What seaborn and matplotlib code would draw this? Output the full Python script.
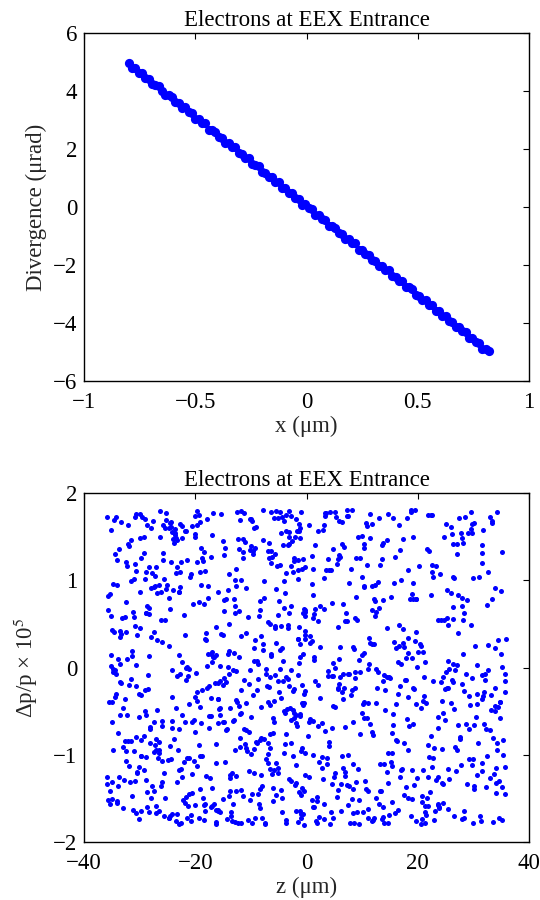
import numpy as np
import pandas as pd
import matplotlib
matplotlib.use("Agg")
import matplotlib.pyplot as plt
import seaborn as sns

# 1 Data

# top panel: transverse phase space, x in um, divergence in urad
x_um = [-0.800, -0.785, -0.770, -0.755, -0.740, -0.725, -0.710, -0.695, -0.680, -0.665,
        -0.650, -0.635, -0.620, -0.605, -0.590, -0.575, -0.560, -0.545, -0.530, -0.515,
        -0.500, -0.485, -0.470, -0.455, -0.440, -0.425, -0.410, -0.395, -0.380, -0.365,
        -0.350, -0.335, -0.320, -0.305, -0.290, -0.275, -0.260, -0.245, -0.230, -0.215,
        -0.200, -0.185, -0.170, -0.155, -0.140, -0.125, -0.110, -0.095, -0.080, -0.065,
        -0.050, -0.035, -0.020, -0.005, 0.010, 0.025, 0.040, 0.055, 0.070, 0.085,
        0.100, 0.115, 0.130, 0.145, 0.160, 0.175, 0.190, 0.205, 0.220, 0.235,
        0.250, 0.265, 0.280, 0.295, 0.310, 0.325, 0.340, 0.355, 0.370, 0.385,
        0.400, 0.415, 0.430, 0.445, 0.460, 0.475, 0.490, 0.505, 0.520, 0.535,
        0.550, 0.565, 0.580, 0.595, 0.610, 0.625, 0.640, 0.655, 0.670, 0.685,
        0.700, 0.715, 0.730, 0.745, 0.760, 0.775, 0.790, 0.805, 0.820]
divergence = [4.97, 4.81, 4.78, 4.62, 4.63, 4.46, 4.43, 4.24, 4.22, 4.18,
              3.99, 3.86, 3.87, 3.80, 3.61, 3.58, 3.41, 3.44, 3.27, 3.23,
              3.05, 3.04, 2.89, 2.89, 2.67, 2.65, 2.60, 2.42, 2.38, 2.20,
              2.22, 2.07, 2.06, 1.85, 1.84, 1.69, 1.68, 1.47, 1.46, 1.41,
              1.22, 1.18, 1.02, 1.02, 0.87, 0.87, 0.65, 0.64, 0.49, 0.48,
              0.30, 0.27, 0.08, 0.10, -0.05, -0.06, -0.27, -0.28, -0.41, -0.44,
              -0.64, -0.66, -0.71, -0.90, -0.94, -1.09, -1.10, -1.25, -1.25, -1.47,
              -1.48, -1.63, -1.64, -1.82, -1.85, -2.04, -2.02, -2.17, -2.18, -2.38,
              -2.40, -2.55, -2.56, -2.76, -2.77, -2.83, -3.02, -3.06, -3.21, -3.22,
              -3.37, -3.37, -3.59, -3.59, -3.75, -3.76, -3.94, -3.97, -4.15, -4.14,
              -4.29, -4.30, -4.50, -4.51, -4.65, -4.68, -4.88, -4.89, -4.97]

# bottom panel: longitudinal phase space
# z in tenths of a micron, dp/p in hundredths of 1e-5
z_tenths = [
    -312,147,-58,263,-201,31,-143,338,92,-267,205,-96,
    84,-334,219,-17,-178,301,-251,156,-89,42,277,-128,
    -226,11,352,-73,189,-305,118,-159,254,-44,-281,67,
    293,-119,-7,-347,238,-192,76,-63,171,-262,329,134,
    -169,207,-290,103,-31,345,-215,51,-104,284,-323,163,
    22,-248,315,-136,129,-81,-359,246,-12,192,-207,88,
    -338,169,-163,61,-276,224,-52,306,-98,9,140,-233,
    117,-68,-219,348,-297,35,-151,271,197,-24,-110,-330,
    -54,260,-314,182,-185,97,-9,-243,320,-127,56,233,
    249,-286,37,-193,-75,151,-346,288,-37,107,-158,213,
    -122,-27,279,-266,73,-325,198,-176,343,25,-88,129,
    178,-351,110,-2,-230,322,-142,63,-59,243,-292,16,
    -279,82,-106,211,357,-48,-189,-319,138,-16,267,46,
    5,-209,236,-299,157,-133,-66,292,-245,103,-355,187,
    -92,312,-171,49,-38,-258,270,124,-307,-117,225,13,
    230,-45,-342,176,-223,81,-8,335,-149,58,-269,-101,
    -154,27,194,-83,307,-312,-21,118,-238,251,-186,84,
    351,-242,-131,15,-290,144,-64,207,-3,-197,66,-339,
    -13,103,-274,317,-167,-99,168,-349,39,231,-52,280,
    -241,195,70,-304,-39,264,-114,-182,297,5,139,-78,
    138,-292,-97,218,-12,340,-168,52,-229,-61,286,-331,
    -205,61,-321,156,-134,11,262,-57,325,-279,104,-179,
    325,-160,-24,-235,87,-350,174,-110,20,249,-296,-66,
    -71,-308,140,-184,301,-121,33,-265,213,-6,121,270,
    41,236,-259,-89,-200,180,-340,91,-28,315,-146,-275,
    -297,-6,94,-150,259,-49,354,-218,-117,165,42,-228,
    166,-124,-285,297,-46,69,-196,23,-344,131,-81,241,
    -19,-216,333,31,-259,-172,113,-95,270,-35,-311,183,
    -333,283,-65,-140,54,210,-13,-288,145,-240,75,-115,
    100,-40,-193,244,-320,-79,309,-156,7,-212,189,356,
    -262,152,19,-326,-105,95,-245,332,-174,58,-18,218,
    213,-337,-163,125,-9,-274,66,203,-52,-120,290,-198,
    -114,344,-230,-37,182,-298,-159,14,-315,236,106,-70,
    66,-99,176,-358,280,21,-206,-143,118,-31,-249,303,
    -186,9,-306,257,-58,153,-125,349,-270,80,-3,-231,
    281,-183,-46,-247,111,-347,38,-83,226,-162,167,-8,
    -41,127,-237,-112,-313,299,-62,178,-4,-283,246,72,
    187,-270,341,-14,-155,45,-203,261,-126,10,-335,115,
    -349,-53,102,-197,220,-27,-290,86,340,-139,-225,152,
    15,287,-141,68,-260,-91,196,-324,-34,316,133,-180,
    -224,71,-11,-300,254,173,-77,-165,28,-253,354,-108,
    306,-129,-341,41,-49,-212,-137,115,-241,200,-18,266,
    -84,-236,227,133,-322,-2,269,-185,79,-100,-284,327,
    123,339,-274,-171,-64,256,-316,12,-211,154,-43,97,
    -144,-22,48,-256,182,-118,-31,-306,295,-221,216,59,
    259,-328,-154,119,-293,34,-70,-245,160,-4,320,-182,
    -4,186,-216,352,-85,-348,148,-127,-265,77,-36,204,
    -301,100,-189,-61,222,298,-268,-3,131,-148,-94,44,
    145,-262,276,-41,-233,64,-357,189,-115,331,-27,-151,
    -58,53,-118,-282,315,-194,-22,240,-33,90,-309,169,
    225,-301,-84,176,-208,-26,343,-132,108,-256,31,-343,
    -163,285,-3,-319,47,-77,-235,159,-113,272,-179,99,
    83,-140,-253,316,-16,-192,125,-329,237,2,-67,-288,
    -270,24,-159,-42,205,-95,-302,58,294,-228,357,137,
    316,-227,-62,86,-357,142,-200,-8,179,-137,-272,255,
    -29,170,-323,-107,236,-12,63,-180,-277,-55,323,108,
    -192,-353,117,273,-67,-242,35,304,-146,195,-44,-310,
    60,252,-36,-214,-138,348,-325,-92,6,245,-263,154,
    -317,-78,-6,149,-264,93,213,-163,-109,-22,276,-227,
    197,-188,-240,54,-17,-300,-87,337,-52,124,-350,39,
    -102,115,319,-273,-197,17,-344,253,147,-159,-32,-234,
    272,-12,-112,-336,183,-63,107,-216,-288,31,-177,339,
    -243,-160,57,219,-44,-316,-118,154,318,-6,83,-290,
    34,338,-286,-129,111,-234,-54,293,-79,-170,191,-338,
    -176,-69,12,-248,280,88,-18,-351,232,-95,-273,167,
    346,-297,-221,63,-103,-25,164,-139,12,-329,224,-73,
    -48,209,-132,-314,-5,-254,333,73,-196,117,-42,265,
    109,-217,-354,191,-148,267,-87,-28,46,-243,307,-183,
    -283,40,-177,-8,265,147,-230,110,-321,-70,-122,352,
    168,-324,96,-200,-60,-279,7,228,-150,311,-10,-101,
    -11,-93,-258,315,164,-170,-349,72,19,-56,245,-230,
    -307,199,-2,-140,-254,44,-117,283,-193,135,-344,74,
    242,-170,-306,28,111,-38,357,-225,-81,-282,-23,196,
    -135,-297,160,-73,-341,300,-218,18,-159,210,89,-3,
    77,-8,-232,251,-120,-309,125,-44,-265,333,-185,46,
    -213,131,342,-357,-31,-150,62,-289,230,-100,-34,282,
    302,-260,-45,-177,194,-80,-321,177,-16,-206,89,-131,
    -95,-222,25,339,-284,-63,208,-149,52,-10,-266,121,
    -327,183,-117,-16,84,-203,-47,330,-253,137,-162,264,
    121,47,-287,-232,-90,263,-121,-336,159,-3,298,-54,
    -24,-343,180,-89,-168,51,-300,-37,278,243,-212,100,
    206,-134,-189,135,-324,-40,88,-244,-108,349,13,-289,
    -256,296,-15,-271,32,-191,156,-66,-336,-127,217,56,
    47,-109,254,-352,-224,119,-80,-12,300,-162,-247,191,
    -156,-31,-245,70,-126,326,-288,187,-57,14,-358,237,
    330,-285,103,-191,248,-6,-223,-96,132,-302,-37,80,
    -76,158,-340,-19,-208,-149,56,-271,255,-82,173,-125,
    264,-213,-65,348,-310,89,-16,-180,-255,29,-131,211,
    -4,-275,221,-127,-33,-242,301,137,-98,-347,66,-188,
    -232,94,-13,-333,190,-70,-155,21,346,-204,-108,284,
    142,-353,-104,238,-14,-167,69,-239,-40,313,-278,112,
    -286,215,-200,-57,-316,125,-2,-129,252,75,-86,-224,
    82,-51,319,-215,-145,5,-283,263,-169,-327,168,-20,
    -200,327,-28,-293,62,-101,196,-31,-236,356,-172,104,
    359,-9,-346,160,-268,-205,37,-124,102,-55,-298,247,
    -137,-258,75,-75,228,-337,-171,288,-19,144,-214,21,
    224,-119,-247,12,-188,281,-60,-309,185,-145,-27,-260,
    -48,275,-156,-305,104,-23,-128,56,-241,215,-351,146,
    -307,48,136,-229,-98,-280,336,-15,225,-196,-66,9,
    191,-175,-69,295,-37,-218,-335,114,-84,29,280,-141,
]
dp_hundredths = [
    64,-132,171,-17,-158,103,-71,22,149,-104,-46,130,
    -167,38,-89,157,-24,-139,95,-53,7,178,-112,71,
    121,-61,-175,-2,84,-121,165,-36,49,-150,-87,138,
    -33,169,16,-95,-161,110,-7,134,-116,54,-72,-142,
    152,-154,-50,93,-128,31,-173,178,-19,62,116,-84,
    -108,80,140,-170,-5,-45,173,-133,27,-65,107,57,
    10,-118,-163,127,168,-79,60,-30,-145,96,-9,146,
    -176,125,37,-58,-102,177,-151,3,79,-27,144,-91,
    90,-41,-147,17,132,-76,-168,161,-14,-124,46,116,
    -60,163,-104,75,-179,-12,41,-134,108,166,-48,6,
    136,-87,-19,-165,53,121,-127,-56,178,23,-145,98,
    -14,14,-173,115,-70,-137,89,167,-38,-93,150,67,
    160,-151,58,-33,-114,20,-64,139,-171,112,-3,-133,
    -126,104,-69,176,29,-156,-11,-105,67,137,-40,-170,
    32,-170,127,-125,-52,163,-94,76,-21,-140,175,9,
    -92,47,-8,-146,148,-26,113,-177,-63,10,85,170,
    176,-103,-135,66,-42,-163,150,27,-82,-5,122,-111,
    -137,155,-60,-16,101,-120,15,-174,59,179,-36,-75,
    5,-39,92,158,-156,-99,-21,43,124,-164,-121,70,
    -69,181,-120,37,-88,69,-147,111,-12,163,-178,20,
    143,-78,-31,-159,12,-115,177,-45,87,-138,-7,57,
    -144,23,163,-66,-176,83,-14,130,-102,35,-58,170,
    72,-164,-49,108,-5,-131,44,-88,156,-25,172,-116,
    -21,119,-111,-175,166,12,-73,94,-159,-43,27,141,
    112,-126,29,-86,-34,171,-155,54,-3,-119,137,-63,
    -164,62,-152,145,85,-28,-100,-62,179,6,-179,92,
    25,147,-9,-112,-140,53,121,-171,-34,171,-81,-17,
    -112,-14,79,163,-61,-160,4,-121,130,-47,102,-150,
    167,-172,-76,19,119,-38,-143,62,-11,89,-100,147,
    -52,99,175,-132,-20,146,-86,-166,36,-104,11,-28,
    86,-108,-153,58,-175,9,166,-49,-127,129,-64,175,
    -178,136,46,-41,-96,-142,73,116,-16,-81,154,-6,
    126,-45,-117,175,34,-83,-163,12,99,-57,-130,52,
    -8,170,-86,-133,148,-20,-63,-174,66,142,-106,25,
    -149,30,111,-2,-62,-113,178,88,-167,-32,42,-94,
    55,-157,-35,160,-141,96,-10,-83,117,-177,163,-41,
    -98,-24,152,-71,13,-178,127,-137,-41,68,-11,180,
    178,-95,-132,46,-15,74,-107,153,-4,-152,35,-65,
    -39,116,-166,-113,134,-60,-26,21,-144,107,-178,81,
    140,-65,16,-24,-131,161,-176,-96,49,-9,118,-124,
    -125,62,-56,148,-162,28,99,-18,-115,169,-83,40,
    3,-177,123,-90,76,-145,-46,176,-61,18,-132,103,
    -161,154,-16,-142,-55,37,-119,73,-178,139,61,-3,
    94,-23,-97,16,178,-128,146,-160,-42,-75,8,125,
    -72,122,-173,102,-34,-52,62,3,159,-108,-150,-19,
    161,-129,38,-175,-117,174,-39,-90,22,67,-7,-164,
    -30,79,-148,132,59,-2,-169,113,-85,-136,156,27,
    -174,14,95,-58,-143,154,31,-27,-156,77,-93,112,
    45,-136,-82,168,-10,-101,82,-151,132,-31,174,-63,
    -117,172,-26,-68,120,-173,-52,107,-13,-166,48,4,
    109,-57,-139,23,-169,145,-87,-3,162,-121,67,-30,
    -88,173,33,-113,-44,80,-176,127,-14,-66,2,151,
    24,-147,177,-36,101,-102,-2,-161,55,-79,143,-129,
    -159,71,-64,140,-179,22,-114,168,-43,110,-8,77,
    131,-8,-122,-178,66,-49,153,-92,11,-141,93,-24,
    -46,100,10,-96,-157,160,-28,40,-136,179,-71,118,
    167,-141,-74,83,-22,-168,112,-57,-108,30,-166,58,
    -11,57,-178,123,-127,-39,75,137,-59,-155,179,-98,
    -131,180,-41,-11,150,-116,-166,14,91,-25,-80,164,
    78,-102,147,-148,-67,45,-13,-122,171,59,-151,-4,
    -152,28,-65,105,-38,-176,130,89,-98,-18,155,-46,
    39,-165,177,-55,-95,120,-139,-1,63,-174,16,91,
    -105,87,-25,-125,172,-84,36,-154,-33,124,-63,170,
    177,-50,-143,63,-2,148,-110,-71,27,-159,97,-136,
    -21,134,-100,-172,80,-12,-55,158,-129,8,-89,49,
    -173,-31,60,142,-119,110,-163,-7,113,-46,175,-105,
    118,-118,-61,19,-180,54,166,-135,-28,93,-15,-170,
    -58,156,-157,-23,129,-91,4,71,-69,167,-123,33,
    13,-85,93,-138,-47,176,-179,-41,142,-109,65,1,
    -126,41,-5,174,-75,-149,28,-104,-20,104,-172,135,
    148,-172,123,-109,-30,6,-62,174,-148,47,-52,86,
    -80,1,-123,50,160,-166,100,-27,-89,140,-3,-158,
    55,-138,176,-64,-162,85,-15,-116,36,-71,126,-42,
    -166,125,-42,-7,95,-105,157,-178,-36,18,-131,66,
    97,-20,-168,165,-53,-130,64,22,-98,168,-158,-10,
    -10,68,-94,-152,179,37,-133,109,-175,-57,45,143,
    -136,-67,154,80,-25,-173,-84,-14,123,-122,81,17,
    160,-152,-35,-44,115,13,-147,65,-1,178,-95,-173,
    -36,112,-178,33,-139,-60,178,-127,90,-16,-110,56,
    79,-10,70,-131,-85,141,-44,4,-167,-98,165,-146,
    -102,173,-59,-26,12,-121,87,-175,154,-38,-2,104,
    25,-121,137,-174,-107,68,-24,121,-72,15,-160,-55,
    -170,49,-9,115,-156,-45,171,-92,42,-142,136,-24,
    136,-92,-116,2,162,-77,-136,-53,103,-179,25,79,
    -55,150,-170,-68,-37,110,-103,180,-9,61,-126,-158,
    173,-25,17,-139,54,-168,-54,133,-111,-30,-76,113,
    -82,97,-153,170,-176,-12,124,-82,7,-123,147,-40,
    4,-159,50,-40,-96,126,-177,32,-149,158,78,-11,
    -141,41,-103,93,140,-34,-66,-160,168,-5,-115,126,
    115,-179,156,-18,-117,-86,2,53,-130,73,-41,-164,
    -26,84,-74,-160,165,12,-124,143,-50,-176,108,34,
    -160,-41,149,45,-13,-149,64,-94,-23,174,-157,6,
    181,-115,-28,-104,78,-63,-166,104,18,-84,135,-135,
    -74,26,-130,131,-164,-3,41,-21,159,-145,-56,92,
    33,-146,169,-83,-49,162,-111,-178,-42,28,-101,150,
    -123,131,-8,-178,104,-126,-35,77,-165,146,1,-67,
    83,-91,-172,57,-26,16,-153,172,-67,-17,116,-107,
    -2,171,-46,-120,141,-58,100,-140,-3,-169,59,-178,
    -167,5,124,14,-178,91,-81,33,-114,163,-43,128,
    150,-69,-99,178,-11,-155,-17,148,76,-128,-174,1,
]

title = "Electrons at EEX Entrance"

# 2 Frames
top = pd.DataFrame({"x": x_um, "div": divergence})
bottom = pd.DataFrame({"z": np.array(z_tenths) / 10.0,
                       "dp": np.array(dp_hundredths) / 100.0})

# 3 Style (MATLAB-ish look)
sns.set_style("white")
plt.rcParams["font.family"] = ["Liberation Serif", "DejaVu Serif"]
plt.rcParams["mathtext.fontset"] = "stix"
fs = 16.5
plt.rcParams["font.size"] = fs
plt.rcParams["axes.linewidth"] = 1.0
plt.rcParams["axes.edgecolor"] = "black"
plt.rcParams["text.color"] = "black"
plt.rcParams["xtick.color"] = "black"
plt.rcParams["ytick.color"] = "black"

fig = plt.figure(figsize=(5.4, 9.0), dpi=100)
ax1 = fig.add_axes([84 / 540, 1 - 381 / 900, 445 / 540, 348 / 900])
ax2 = fig.add_axes([84 / 540, 1 - 842 / 900, 445 / 540, 349 / 900])

# 4 Top panel: x vs divergence
sns.scatterplot(data=top, x="x", y="div", color="#0000ff", s=44,
                linewidth=0, ax=ax1)
ax1.set_xlim(-1, 1)
ax1.set_ylim(-6, 6)
ax1.set_xticks([-1, -0.5, 0, 0.5, 1])
ax1.set_xticklabels(["\u22121", "\u22120.5", "0", "0.5", "1"])
ax1.set_yticks([-6, -4, -2, 0, 2, 4, 6])
ax1.set_xlabel("x (\u03bcm)", labelpad=2)
ax1.set_ylabel("Divergence (\u03bcrad)", labelpad=4)
ax1.set_title(title, pad=5, fontsize=fs)

# 5 Bottom panel: z vs dp/p
sns.scatterplot(data=bottom, x="z", y="dp", color="#0000ff", s=13,
                linewidth=0, ax=ax2)
ax2.set_xlim(-40, 40)
ax2.set_ylim(-2, 2)
ax2.set_xticks([-40, -20, 0, 20, 40])
ax2.set_yticks([-2, -1, 0, 1, 2])
ax2.set_xlabel("z (\u03bcm)", labelpad=2)
ax2.set_ylabel("\u0394p/p \u00d7 10$^5$", labelpad=9)
ax2.set_title(title, pad=5, fontsize=fs)

for ax in (ax1, ax2):
    ax.tick_params(direction="in", length=4, width=0.8, top=True, right=True,
                   labelsize=fs)
    ax.tick_params(axis="x", pad=8)
    ax.tick_params(axis="y", pad=5)
    for sp in ax.spines.values():
        sp.set_visible(True)
        sp.set_color("black")

plt.savefig("out.png", dpi=100)
